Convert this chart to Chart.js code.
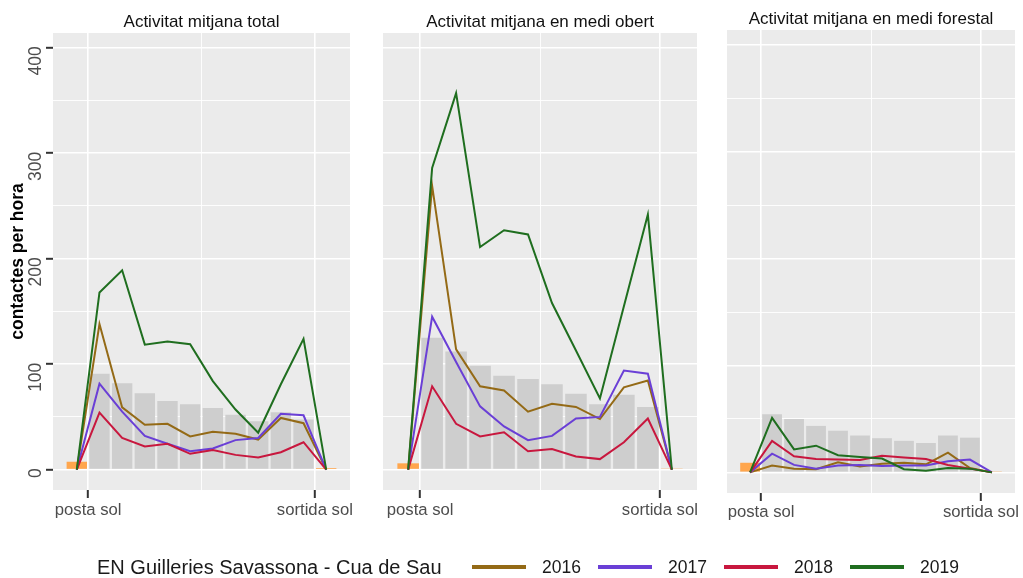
<!DOCTYPE html>
<html>
<head>
<meta charset="utf-8">
<script src="https://cdn.jsdelivr.net/npm/chart.js@4.4.1/dist/chart.umd.min.js"></script>
<style>
  html, body { margin: 0; padding: 0; background: #ffffff; }
  #wrap { position: relative; width: 1023px; height: 578px; overflow: hidden; font-family: "Liberation Sans", Arial, sans-serif; }
  #wrap canvas { position: absolute; left: 0; top: 0; }
  .lg-title { position: absolute; font-size: 20px; line-height: 20px; color: #1a1a1a; white-space: nowrap; }
  .lg-key { position: absolute; height: 4px; }
  .lg-text { position: absolute; font-size: 17.5px; line-height: 20px; color: #1a1a1a; white-space: nowrap; }
</style>
</head>
<body>
<div id="wrap">
  <canvas id="c1" width="1023" height="578"></canvas>
  <canvas id="c2" width="1023" height="578"></canvas>
  <canvas id="c3" width="1023" height="578"></canvas>
</div>
<script>
// ---------------- DATA ----------------
// slot 0 = sunset marker bar, slots 1..10 = night periods, slot 11 = sunrise marker bar
const years = ['2016', '2017', '2018', '2019'];
const xTickValues = [0.5, 5.5, 10.5];
const xTickLabels = ['posta sol', '', 'sortida sol'];
const yTickValues = [0, 50, 100, 150, 200, 250, 300, 350, 400];
const yTickLabels = ['0', '', '100', '', '200', '', '300', '', '400'];
const legendTitle = 'EN Guilleries Savassona - Cua de Sau';
const yAxisTitle = 'contactes per hora';

// Panel 1: total
const titleTotal = 'Activitat mitjana total';
const greyTotal = [91, 82, 72.5, 65, 62, 58.5, 52, 46, 54.5, 47.5];
const sunTotal = [7.5, 1.5];
const y2016Total = [0, 138, 59, 42.5, 43.5, 31.5, 36, 34, 28.5, 49, 44, 0];
const y2017Total = [0, 81.5, 55, 32, 24.5, 17.5, 20, 28, 30, 53, 51.5, 0];
const y2018Total = [0, 54, 30, 22, 24.5, 15, 18.5, 14, 11.5, 16.5, 26, 0];
const y2019Total = [0, 168, 189, 118.5, 121.5, 119, 84, 57, 35, 81, 124, 0];

// Panel 2: medi obert
const titleObert = 'Activitat mitjana en medi obert';
const greyObert = [125, 112, 98.5, 89, 86, 81, 72, 62, 71, 59.5];
const sunObert = [6, 1];
const y2016Obert = [0, 269, 114, 79, 75, 55, 62.5, 59.5, 48, 78, 84.5, 0];
const y2017Obert = [0, 145, 102, 60, 41, 28, 32, 48.5, 50, 94, 91, 0];
const y2018Obert = [0, 79, 43.5, 31.5, 35.5, 17.5, 19.5, 12.5, 10, 26, 48.5, 0];
const y2019Obert = [0, 286, 357, 211, 227, 223, 158, 113, 67.5, 155, 242, 0];

// Panel 3: medi forestal
const titleForestal = 'Activitat mitjana en medi forestal';
const greyForestal = [54.5, 50, 43.5, 39, 34.5, 32, 29.5, 27.5, 34.5, 32.5];
const sunForestal = [9, 1];
const y2016Forestal = [0, 6.5, 3.5, 3, 9.5, 5.5, 8, 9, 7.5, 18.5, 4, 0];
const y2017Forestal = [0, 17.5, 7, 3.5, 6.5, 7, 6, 6.5, 6.5, 10.5, 12, 0];
const y2018Forestal = [0, 29.5, 15, 12.5, 12, 11.5, 15.5, 14, 12.5, 7, 3.5, 0];
const y2019Forestal = [0, 51, 21.5, 25, 16, 14.5, 13, 3, 1.5, 4, 3.5, 0];

// ---------------- STYLE ----------------
const FONT = '"Liberation Sans", Arial, sans-serif';
const yearColors = ['#946a16', '#6a3fd6', '#c8173e', '#1f6e1f'];
const SUN_COLOR = '#ffa64d';
const GREY_COLOR = '#cecece';
const PANEL_BG = '#ebebeb';

const bgPlugin = {
  id: 'panelBg',
  beforeDraw(chart) {
    const a = chart.chartArea, c = chart.ctx;
    c.save();
    c.fillStyle = PANEL_BG;
    c.fillRect(a.left, a.top, a.right - a.left, a.bottom - a.top);
    c.restore();
  }
};

const toPts = arr => arr.map((v, i) => ({ x: i, y: v }));

function makePanel(id, p) {
  const series = [p.s2016, p.s2017, p.s2018, p.s2019];
  const barValues = [p.sun[0], ...p.grey, p.sun[1]];
  const lastIdx = barValues.length - 1;
  const datasets = series.map((s, k) => ({
    type: 'line',
    label: years[k],
    data: toPts(s),
    borderColor: yearColors[k],
    borderWidth: 2,
    pointRadius: 0,
    tension: 0,
    fill: false,
    order: 4 - k
  }));
  datasets.push({
    type: 'bar',
    label: 'mitjana',
    data: toPts(barValues),
    backgroundColor: ctx => (ctx.dataIndex === 0 || ctx.dataIndex === lastIdx) ? SUN_COLOR : GREY_COLOR,
    borderWidth: 0,
    barPercentage: 0.9,
    categoryPercentage: 1,
    order: 10
  });
  const isMinorX = v => v === 5.5;
  const isMinorY = v => v % 100 !== 0;
  return new Chart(document.getElementById(id), {
    type: 'line',
    data: { datasets },
    options: {
      responsive: false,
      animation: false,
      devicePixelRatio: 1,
      layout: { padding: { left: p.padL, right: p.padR, top: 0, bottom: 0 } },
      plugins: {
        legend: { display: false },
        tooltip: { enabled: false },
        title: {
          display: true,
          text: p.title,
          fullSize: false,
          color: '#111111',
          font: { family: FONT, size: 17, weight: 'normal' },
          padding: { top: p.titleTop, bottom: p.titleBottom }
        }
      },
      scales: {
        x: {
          type: 'linear',
          offset: false,
          min: -1.05,
          max: 12.05,
          afterBuildTicks: s => { s.ticks = xTickValues.map(v => ({ value: v })); },
          afterFit: s => { s.height = p.xH; },
          ticks: {
            autoSkip: false,
            maxRotation: 0,
            minRotation: 0,
            padding: p.xPad,
            color: '#4d4d4d',
            font: { family: FONT, size: 16.7 },
            callback: v => { const i = xTickValues.indexOf(v); return i >= 0 ? xTickLabels[i] : ''; }
          },
          grid: {
            offset: false,
            color: '#ffffff',
            lineWidth: ctx => (ctx.tick && isMinorX(ctx.tick.value)) ? 0.9 : 1.6,
            tickLength: 8,
            tickWidth: 2,
            tickColor: ctx => (ctx.tick && isMinorX(ctx.tick.value)) ? 'rgba(0,0,0,0)' : '#333333'
          },
          border: { display: false }
        },
        y: {
          type: 'linear',
          min: -19.3,
          max: 414,
          afterBuildTicks: s => { s.ticks = yTickValues.map(v => ({ value: v })); },
          afterFit: s => { s.width = p.yW; },
          ticks: {
            display: p.showY,
            autoSkip: false,
            minRotation: 90,
            maxRotation: 90,
            crossAlign: 'near',
            padding: 10,
            labelOffset: -1.5,
            color: '#4d4d4d',
            font: { family: FONT, size: 17.5 },
            callback: v => { const i = yTickValues.indexOf(v); return i >= 0 ? yTickLabels[i] : ''; }
          },
          grid: {
            color: '#ffffff',
            lineWidth: ctx => (ctx.tick && isMinorY(ctx.tick.value)) ? 0.9 : 1.6,
            drawTicks: p.showY,
            tickLength: 7,
            tickWidth: 2,
            tickColor: ctx => (ctx.tick && isMinorY(ctx.tick.value)) ? 'rgba(0,0,0,0)' : '#333333'
          },
          border: { display: false },
          title: {
            display: p.showY,
            text: yAxisTitle,
            color: '#000000',
            font: { family: FONT, size: 17.5, weight: 'bold' },
            padding: { top: 7.5, bottom: 0 }
          }
        }
      }
    },
    plugins: [bgPlugin]
  });
}

makePanel('c1', {
  title: titleTotal, grey: greyTotal, sun: sunTotal,
  s2016: y2016Total, s2017: y2017Total, s2018: y2018Total, s2019: y2019Total,
  padL: 0, padR: 673, yW: 53, xH: 88, xPad: 2, titleTop: 12.3, titleBottom: 0.3, showY: true
});
makePanel('c2', {
  title: titleObert, grey: greyObert, sun: sunObert,
  s2016: y2016Obert, s2017: y2017Obert, s2018: y2018Obert, s2019: y2019Obert,
  padL: 383, padR: 326, yW: 0, xH: 88, xPad: 2, titleTop: 12.3, titleBottom: 0.3, showY: false
});
makePanel('c3', {
  title: titleForestal, grey: greyForestal, sun: sunForestal,
  s2016: y2016Forestal, s2017: y2017Forestal, s2018: y2018Forestal, s2019: y2019Forestal,
  padL: 727, padR: 8, yW: 0, xH: 85, xPad: 1, titleTop: 9.3, titleBottom: 0.3, showY: false
});

// ---------------- LEGEND ----------------
(function buildLegend() {
  const wrap = document.getElementById('wrap');
  const t = document.createElement('div');
  t.className = 'lg-title';
  t.style.left = '97px';
  t.style.top = '557px';
  t.textContent = legendTitle;
  wrap.appendChild(t);
  years.forEach((yr, k) => {
    const x0 = 472 + k * 126;
    const key = document.createElement('div');
    key.className = 'lg-key';
    key.style.left = x0 + 'px';
    key.style.top = '565px';
    key.style.width = '54px';
    key.style.background = yearColors[k];
    wrap.appendChild(key);
    const tx = document.createElement('div');
    tx.className = 'lg-text';
    tx.style.left = (x0 + 70) + 'px';
    tx.style.top = '557px';
    tx.textContent = yr;
    wrap.appendChild(tx);
  });
})();
</script>
</body>
</html>
